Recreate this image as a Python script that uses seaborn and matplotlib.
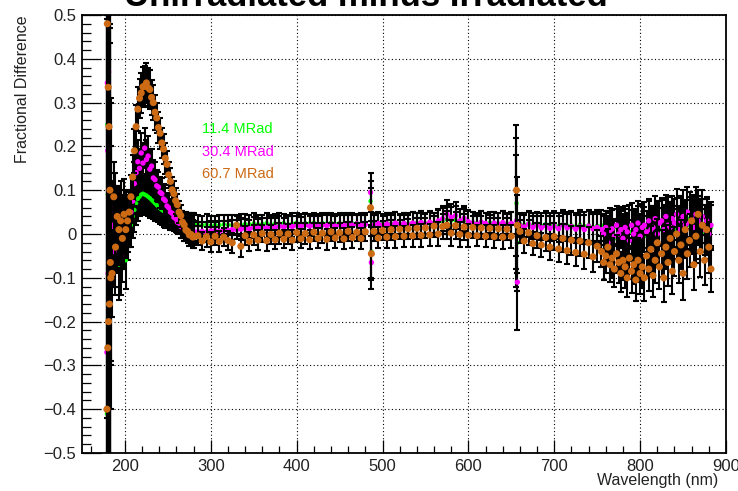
import matplotlib
matplotlib.use("Agg")
import matplotlib.pyplot as plt
import pandas as pd
import seaborn as sns
from matplotlib.ticker import MultipleLocator, FuncFormatter

# ---------------- data ----------------
wavelength = [
    179, 179.5, 180, 180.5, 181, 181.5, 182, 182.5, 183, 183.5,
    185, 187, 189, 191, 193, 195, 197, 199, 201, 203, 205,
    207, 209, 211, 213, 215, 217, 219, 221, 223, 225, 227, 229, 231, 233, 235, 237, 239, 241, 243,
    245, 247, 249, 251, 253, 255, 257, 259, 261, 263, 265, 267, 269, 271, 273, 275, 277, 279, 281,
    285, 290, 295, 300, 305, 310, 315, 320, 325, 330,
    335, 340, 345, 350, 355, 360, 365, 370, 375, 380, 385, 390, 395, 400, 405, 410, 415, 420, 425, 430,
    435, 440, 445, 450, 455, 460, 465, 470, 475, 480,
    486, 487,
    490, 495, 500, 505, 510, 515, 520, 525, 530, 535, 540, 545, 550, 555, 560, 565, 570, 575, 580, 585,
    590, 595, 600, 605, 610, 615, 620, 625, 630, 635, 640, 645, 650,
    656, 657,
    660, 665, 670, 675, 680, 685, 690, 695, 700, 705, 710, 715, 720, 725, 730, 735, 740, 745, 750,
    755, 757.5, 760, 762.5, 765, 767.5, 770, 772.5, 775, 777.5, 780, 782.5, 785, 787.5, 790, 792.5,
    795, 797.5, 800, 802.5, 805, 807.5, 810, 812.5, 815, 817.5, 820, 822.5, 825, 827.5, 830, 832.5,
    835, 837.5, 840, 842.5, 845, 847.5, 850, 852.5, 855, 857.5, 860, 862.5, 865, 867.5, 870, 872.5,
    875, 877.5, 880, 882.5,
]

frac_11_4 = [
    -0.41, 0.25, 0.09, -0.06, 0.02, 0.12, -0.15, 0.05, -0.03, 0.0,
    0.0, 0.03, -0.05, 0.02, -0.07, 0.01, -0.04, 0.02, -0.06, 0.0, 0.02,
    0.02, 0.04, 0.055, 0.07, 0.08, 0.085, 0.09, 0.092, 0.09, 0.088, 0.085, 0.082, 0.078, 0.074, 0.07,
    0.066, 0.062, 0.058, 0.055, 0.052, 0.049, 0.046, 0.043, 0.04, 0.038, 0.036, 0.034, 0.032, 0.03,
    0.028, 0.027, 0.026, 0.025, 0.024, 0.023, 0.023, 0.022, 0.022,
    0.021, 0.02, 0.022, 0.019, 0.021, 0.02, 0.022, 0.021, 0.02, 0.022,
    0.021, 0.023, 0.022, 0.024, 0.022, 0.023, 0.025, 0.022, 0.024, 0.023, 0.025, 0.022, 0.024, 0.026, 0.023,
    0.025, 0.024, 0.026, 0.023, 0.025, 0.024, 0.026, 0.023, 0.025, 0.024, 0.026, 0.024, 0.025, 0.023, 0.025,
    0.075, -0.04,
    0.024, 0.026, 0.023, 0.025, 0.024, 0.026, 0.023, 0.025, 0.024, 0.026, 0.025, 0.027, 0.024, 0.026, 0.025,
    0.028, 0.03, 0.033, 0.031, 0.032, 0.029, 0.03, 0.027, 0.026, 0.025, 0.027, 0.024, 0.026, 0.025, 0.023,
    0.026, 0.024, 0.025,
    0.07, -0.02,
    0.023, 0.021, 0.024, 0.02, 0.022, 0.019, 0.023, 0.02, 0.021, 0.018, 0.022, 0.019, 0.02, 0.017, 0.021,
    0.018, 0.02, 0.016, 0.019,
    0.02, 0.005, 0.015, 0.0, 0.02, 0.01, -0.01, 0.015, 0.005, 0.02,
    0.0, 0.01, -0.015, 0.02, 0.005, 0.01, -0.01, 0.015, 0.0, 0.02,
    0.01, -0.005, 0.025, 0.005, 0.015, 0.0, 0.02, 0.01, 0.025, -0.005,
    0.015, 0.03, 0.0, 0.02, 0.01, 0.025, 0.005, 0.03, 0.015, 0.0,
    0.02, 0.035, 0.01, 0.025, 0.005, 0.03, 0.015, 0.02, 0.0, 0.025,
    0.01, 0.015,
]

frac_30_4 = [
    -0.27, 0.345, 0.19, -0.09, 0.37, 0.04, -0.18, 0.06, -0.02, 0.01,
    0.02, -0.04, 0.05, -0.02, 0.03, -0.05, 0.02, 0.0, 0.03, 0.02, 0.04,
    0.05, 0.075, 0.115, 0.14, 0.165, 0.15, 0.185, 0.162, 0.196, 0.17, 0.178, 0.148, 0.155, 0.128, 0.124,
    0.11, 0.107, 0.095, 0.092, 0.08, 0.076, 0.064, 0.06, 0.05, 0.047, 0.038, 0.035, 0.027, 0.025,
    0.017, 0.016, 0.01, 0.009, 0.005, 0.007, 0.004, 0.006, 0.005,
    0.005, 0.006, 0.004, 0.007, 0.008, 0.006, 0.009, 0.008, 0.01, 0.01,
    0.011, 0.013, 0.012, 0.015, 0.013, 0.016, 0.014, 0.017, 0.015, 0.018, 0.016, 0.019, 0.017, 0.02, 0.017,
    0.021, 0.018, 0.02, 0.017, 0.021, 0.019, 0.022, 0.018, 0.021, 0.019, 0.022, 0.02, 0.023, 0.019, 0.022,
    0.095, -0.065,
    0.021, 0.024, 0.02, 0.023, 0.021, 0.025, 0.022, 0.024, 0.021, 0.025, 0.023, 0.026, 0.022, 0.027, 0.024,
    0.03, 0.035, 0.045, 0.038, 0.042, 0.03, 0.036, 0.028, 0.025, 0.022, 0.027, 0.024, 0.02, 0.025, 0.022,
    0.026, 0.021, 0.024,
    0.03, -0.11,
    0.02, 0.016, 0.022, 0.015, 0.02, 0.014, 0.019, 0.013, 0.018, 0.012, 0.02, 0.014, 0.017, 0.011, 0.016,
    0.01, 0.018, 0.012, 0.015,
    0.01, 0.0, 0.015, -0.02, 0.008, 0.012, -0.005, 0.02, 0.0, 0.01,
    -0.01, 0.015, 0.005, -0.015, 0.02, 0.0, 0.01, 0.025, -0.005, 0.015,
    0.02, 0.005, 0.03, 0.01, 0.015, 0.035, 0.0, 0.025, 0.03, 0.01,
    0.04, 0.02, 0.015, 0.035, 0.025, 0.045, 0.01, 0.03, 0.04, 0.02,
    0.05, 0.025, 0.035, 0.015, 0.045, 0.03, 0.02, 0.04, 0.01, 0.03,
    0.0, 0.02,
]

frac_60_7 = [
    -0.40, 0.48, -0.26, 0.335, -0.20, 0.245, -0.16, 0.10, -0.065, -0.10,
    -0.09, 0.085, -0.03, 0.04, 0.01, 0.03, -0.01, 0.045, 0.01, 0.03, 0.05,
    0.085, 0.13, 0.19, 0.245, 0.285, 0.31, 0.322, 0.336, 0.338, 0.345, 0.334, 0.33, 0.312, 0.3, 0.278,
    0.265, 0.243, 0.23, 0.208, 0.194, 0.173, 0.159, 0.135, 0.12, 0.101, 0.092, 0.076, 0.067, 0.05,
    0.042, 0.027, 0.021, 0.009, 0.006, -0.002, -0.001, -0.007, -0.006,
    -0.004, -0.016, -0.006, -0.018, -0.005, -0.017, -0.007, -0.015, -0.02, 0.02,
    -0.028, -0.004, -0.017, -0.002, -0.014, 0.001, -0.015, -0.001, -0.013, 0.002, -0.012, 0.0, -0.014,
    0.003, -0.011, 0.001, -0.013, 0.004, -0.01, 0.002, -0.012, 0.005, -0.009, 0.003, -0.011, 0.006,
    -0.008, 0.004, -0.01, 0.005,
    0.06, -0.045,
    0.006, -0.009, 0.008, -0.007, 0.01, -0.006, 0.011, -0.005, 0.012, -0.004, 0.013, -0.003, 0.014, -0.002,
    0.018, 0.0, 0.017, 0.02, 0.002, 0.019, -0.001, 0.016, -0.003, 0.015, -0.004, 0.014, -0.005, 0.013,
    -0.006, 0.012, -0.007, 0.011, -0.005,
    0.1, 0.02,
    0.006, -0.016, 0.003, -0.022, -0.004, -0.025, -0.008, -0.03, -0.006, -0.034, -0.01, -0.038, -0.014,
    -0.042, -0.016, -0.046, -0.02, -0.052, -0.028,
    -0.04, -0.065, -0.05, -0.03, -0.07, -0.055, -0.08, -0.045, -0.065, -0.09,
    -0.06, -0.075, -0.1, -0.055, -0.085, -0.07, -0.105, -0.06, -0.09, -0.075,
    -0.1, -0.05, -0.08, -0.035, -0.095, -0.06, -0.02, -0.075, -0.045, -0.1,
    -0.03, -0.065, -0.01, -0.085, -0.04, 0.0, -0.06, -0.025, -0.09, 0.01,
    -0.045, -0.015, 0.03, -0.07, -0.005, 0.045, -0.04, 0.02, -0.06, 0.01,
    -0.03, -0.08,
]

frac_err = [
    0.9, 0.9, 0.9, 0.9, 0.9, 0.9, 0.9, 0.9, 0.5, 0.3,
    0.1, 0.08, 0.09, 0.07, 0.08, 0.09, 0.07, 0.08, 0.065, 0.06, 0.05,
    0.05, 0.05, 0.05, 0.05, 0.05, 0.045, 0.045, 0.045, 0.045, 0.045, 0.045, 0.045, 0.04, 0.04, 0.04,
    0.035, 0.035, 0.035, 0.035, 0.035, 0.035, 0.03, 0.03, 0.03, 0.03, 0.03, 0.03, 0.025, 0.025,
    0.025, 0.025, 0.025, 0.025, 0.025, 0.025, 0.025, 0.025, 0.025,
    0.022, 0.021, 0.023, 0.022, 0.02, 0.023, 0.021, 0.022, 0.023, 0.022,
    0.025, 0.022, 0.021, 0.023, 0.022, 0.02, 0.023, 0.021, 0.022, 0.024, 0.021, 0.022, 0.023, 0.021, 0.022,
    0.024, 0.022, 0.021, 0.023, 0.022, 0.024, 0.021, 0.023, 0.022, 0.024, 0.022, 0.023, 0.021, 0.024, 0.022,
    0.045, 0.06,
    0.023, 0.024, 0.022, 0.024, 0.023, 0.025, 0.022, 0.024, 0.023, 0.025, 0.024, 0.026, 0.023, 0.025, 0.024,
    0.027, 0.029, 0.032, 0.03, 0.031, 0.028, 0.029, 0.026, 0.025, 0.024, 0.026, 0.025, 0.024, 0.026, 0.025,
    0.027, 0.025, 0.026,
    0.15, 0.11,
    0.026, 0.027, 0.028, 0.027, 0.029, 0.028, 0.03, 0.029, 0.031, 0.03, 0.032, 0.031, 0.033, 0.032, 0.034,
    0.033, 0.035, 0.034, 0.036,
    0.035, 0.04, 0.038, 0.042, 0.04, 0.045, 0.04, 0.043, 0.046, 0.042,
    0.045, 0.048, 0.044, 0.047, 0.05, 0.045, 0.048, 0.05, 0.046, 0.049,
    0.052, 0.047, 0.05, 0.053, 0.048, 0.051, 0.055, 0.05, 0.053, 0.056,
    0.05, 0.054, 0.057, 0.052, 0.055, 0.058, 0.053, 0.056, 0.06, 0.054,
    0.057, 0.06, 0.055, 0.058, 0.062, 0.056, 0.059, 0.06, 0.057, 0.055,
    0.058, 0.052,
]

series_labels = ["11.4 MRad", "30.4 MRad", "60.7 MRad"]
x_ticks = [200, 300, 400, 500, 600, 700, 800, 900]
y_ticks = [-0.5, -0.4, -0.3, -0.2, -0.1, 0.0, 0.1, 0.2, 0.3, 0.4, 0.5]

# ---------------- styling ----------------
colors = {"11.4 MRad": "#00ff00", "30.4 MRad": "#ff00ff", "60.7 MRad": "#cd6a14"}
marker_area = {"11.4 MRad": 10, "30.4 MRad": 15, "60.7 MRad": 26}

sns.set_theme(style="white", rc={
    "text.color": "black", "axes.labelcolor": "black", "axes.edgecolor": "black",
    "xtick.color": "black", "ytick.color": "black",
})
plt.rcParams["font.family"] = ["Liberation Sans", "DejaVu Sans"]

df = pd.DataFrame({
    "wavelength": wavelength,
    "err": frac_err,
    series_labels[0]: frac_11_4,
    series_labels[1]: frac_30_4,
    series_labels[2]: frac_60_7,
})
long = df.melt(id_vars=["wavelength", "err"], value_vars=series_labels,
               var_name="dose", value_name="frac")

fig = plt.figure(figsize=(7.38, 4.91), dpi=100)
ax = fig.add_axes([82 / 738, 38 / 491, 644 / 738, 438 / 491])

for i, lab in enumerate(series_labels):
    sub = long[long["dose"] == lab]
    ax.errorbar(sub["wavelength"], sub["frac"], yerr=sub["err"], fmt="none",
                ecolor="black", elinewidth=1.5, capsize=2.4, capthick=1.5,
                zorder=3 + 2 * i)
    sns.scatterplot(data=sub, x="wavelength", y="frac", color=colors[lab],
                    s=marker_area[lab], linewidth=0, edgecolor="none",
                    legend=False, ax=ax, zorder=4 + 2 * i)

ax.set_xlim(150, 900)
ax.set_ylim(-0.5, 0.5)
ax.set_xticks(x_ticks)
ax.set_yticks(y_ticks)
ax.xaxis.set_minor_locator(MultipleLocator(20))
ax.yaxis.set_minor_locator(MultipleLocator(0.02))


def yfmt(v, _):
    if abs(v) < 1e-9:
        return "0"
    return f"{v:.1f}".replace("-", "\u2212")


ax.yaxis.set_major_formatter(FuncFormatter(yfmt))
ax.xaxis.set_major_formatter(FuncFormatter(lambda v, _: f"{v:.0f}"))

ax.tick_params(which="both", direction="in", top=False, right=False,
               bottom=True, left=True, width=0.9, colors="black")
ax.tick_params(axis="x", which="major", length=9.4, labelsize=12, pad=4)
ax.tick_params(axis="x", which="minor", length=4.7)
ax.tick_params(axis="y", which="major", length=13.7, labelsize=12, pad=4)
ax.tick_params(axis="y", which="minor", length=6.8)
for t in ax.get_xticklabels() + ax.get_yticklabels():
    t.set_color("#222222")

ax.grid(True, which="major", color="black", linestyle=(0, (1, 2.2)), linewidth=0.8)
ax.set_axisbelow(True)
for sp in ax.spines.values():
    sp.set_linewidth(1.3)
    sp.set_color("black")

ax.set_xlabel("Wavelength (nm)", fontsize=11.5, loc="right", color="#222222")
ax.xaxis.set_label_coords((718 - 82) / 644, (453 - 473) / 438)
ax.set_ylabel("Fractional Difference", fontsize=11.5, loc="top", color="#222222")
ax.yaxis.set_label_coords((30 - 82) / 644, 1.0)

# dose labels (in-plot text, as in the reference)
label_y = [0.24, 0.187, 0.138]
for lab, yy in zip(series_labels, label_y):
    ax.text(289.5, yy, lab, color=colors[lab], fontsize=10.5, ha="left", va="center", zorder=10)

fig.text(366 / 738, 1 - 6 / 491, "Unirradiated minus Irradiated", ha="center",
         va="baseline", fontsize=25, fontweight="bold")

fig.savefig("out.png", dpi=100)
